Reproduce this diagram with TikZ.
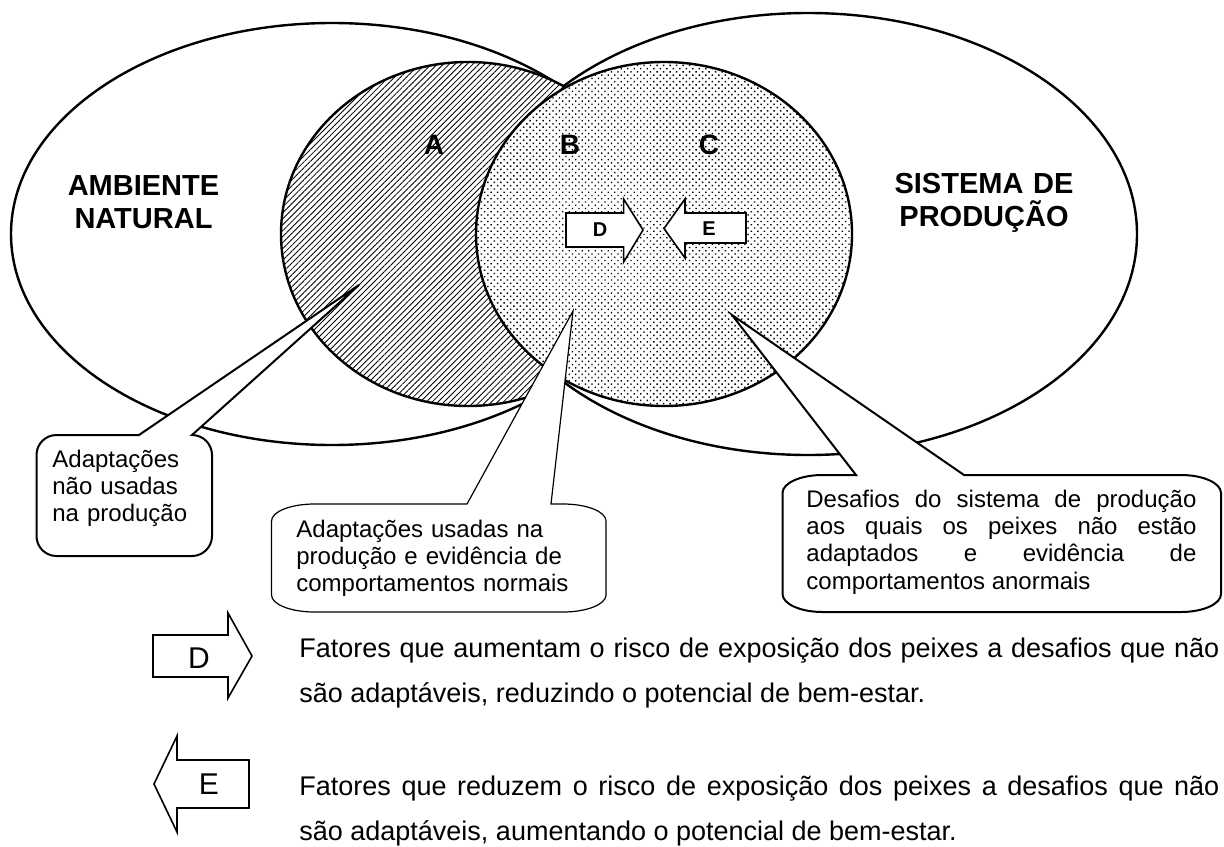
\documentclass[tikz,border=0pt]{standalone}
\usepackage{fontspec}
\setmainfont{Liberation Sans}
\usepackage{tikz}
\usetikzlibrary{patterns.meta}

\begin{document}
\begin{tikzpicture}[x=0.5pt, y=-0.5pt,
    outline/.style={draw, line width=1.2pt},
    plainfill/.style={outline, fill=white},
    hatchfill/.style={outline, preaction={fill=white}, pattern={Lines[angle=45,distance=2.1pt,line width=0.42pt]}},
    dotfill/.style={outline, preaction={fill=white}, pattern={Dots[angle=45,distance=2.3pt,radius=0.5pt]}},
    callout/.style={draw, fill=white, line width=1pt},
    blockarrow/.style={draw, fill=white, line width=0.8pt, line join=miter},
    bigtitle/.style={font=\fontsize{14.5}{16.5}\selectfont\bfseries, text width=100pt, align=center, inner sep=0pt, anchor=base},
    region/.style={font=\fontsize{14}{16}\selectfont\bfseries, inner sep=0pt},
    calltext/.style={font=\fontsize{12}{13.7}\selectfont, inner sep=0pt, anchor=base west},
    legend/.style={font=\fontsize{13.5}{22.5}\selectfont, text width=460pt, align=justify, inner sep=0pt, anchor=base west}]

    % Page
    \path[use as bounding box, fill=white] (0,0) rectangle (1224,846);

    % Big ellipses
    \draw[plainfill] (332,234) ellipse [x radius=321, y radius=211];
    \draw[plainfill] (808,234) ellipse [x radius=329, y radius=221];

    % Inner circles
    \draw[hatchfill] (468,234) ellipse [x radius=187, y radius=172];
    \draw[dotfill] (664,234) ellipse [x radius=188, y radius=172];

    % Titles
    \node[bigtitle] (ambiente) at (143.5,195) {AMBIENTE\\NATURAL};
    \node[bigtitle] (sistema) at (984,193) {SISTEMA DE\\PRODUÇÃO};

    % Regions
    \node[region] (regA) at (434,145) {A};
    \node[region] (regB) at (570,145) {B};
    \node[region] (regC) at (709,145) {C};

    % Arrows inside the circle
    \draw[blockarrow] (566,213) -- (623.6,213) -- (623.6,199) -- (643,230) -- (623.6,262) -- (623.6,247) -- (566,247) -- cycle;
    \draw[blockarrow] (746,213) -- (685,213) -- (685,199) -- (664,228.5) -- (685,258) -- (685,243) -- (746,243) -- cycle;
    \node[font=\fontsize{10}{12}\selectfont\bfseries, inner sep=0pt] (inD) at (600,230) {D};
    \node[font=\fontsize{10}{12}\selectfont\bfseries, inner sep=0pt] (inE) at (709,229) {E};

    % Callout tips
    \coordinate (tipA) at (359,285);
    \coordinate (tipB) at (573,311);
    \coordinate (tipC) at (732,315);

    % Callouts
    \draw[callout] (139,435) -- (tipA) -- (192,435)
        arc[start angle=270, end angle=360, x radius=20, y radius=20] -- (212,536)
        arc[start angle=0, end angle=90, x radius=20, y radius=20] -- (56.5,556)
        arc[start angle=90, end angle=180, x radius=20, y radius=20] -- (36.5,455)
        arc[start angle=180, end angle=270, x radius=20, y radius=20] -- cycle;
    \draw[callout, line width=0.6pt] (467,504) -- (tipB) -- (551,504) -- (563,504)
        arc[start angle=270, end angle=360, x radius=43, y radius=17] -- (606,595)
        arc[start angle=0, end angle=90, x radius=43, y radius=17] -- (314.5,612)
        arc[start angle=90, end angle=180, x radius=43, y radius=17] -- (271.5,521)
        arc[start angle=180, end angle=270, x radius=43, y radius=17] -- cycle;
    \draw[callout] (856,475) -- (tipC) -- (964,475) -- (1181,475)
        arc[start angle=270, end angle=360, x radius=40, y radius=18] -- (1221,594)
        arc[start angle=0, end angle=90, x radius=40, y radius=18] -- (822.5,612)
        arc[start angle=90, end angle=180, x radius=40, y radius=18] -- (782.5,493)
        arc[start angle=180, end angle=270, x radius=40, y radius=18] -- cycle;

    % Callout texts
    \node[calltext, text width=80pt, align=left] (txtA) at (52,467) {Adaptações\\não usadas\\na produção};
    \node[calltext, text width=150pt, align=left] (txtB) at (296,537) {Adaptações usadas na\\produção e evidência de\\comportamentos normais};
    \node[calltext, text width=195pt, align=justify] (txtC) at (806,507) {Desafios do sistema de produção\linebreak aos quais os peixes não estão\linebreak adaptados e evidência de\linebreak comportamentos anormais};

    % Legend arrows
    \draw[blockarrow] (153,635) -- (228,635) -- (228,613) -- (252,656) -- (228,698) -- (228,677) -- (153,677) -- cycle;
    \draw[blockarrow] (249,760) -- (177,760) -- (177,736) -- (154,784) -- (177,832) -- (177,808) -- (249,808) -- cycle;
    \node[font=\fontsize{15}{18}\selectfont, inner sep=0pt] (keyD) at (199,658) {D};
    \node[font=\fontsize{15}{18}\selectfont, inner sep=0pt] (keyE) at (209,784) {E};

    % Legend texts
    \node[legend] (factD) at (299,657) {Fatores que aumentam o risco de exposição dos peixes a desafios que não\linebreak são adaptáveis, reduzindo o potencial de bem-estar.};
    \node[legend] (factE) at (299,795) {Fatores que reduzem o risco de exposição dos peixes a desafios que não\linebreak são adaptáveis, aumentando o potencial de bem-estar.};
\end{tikzpicture}
\end{document}
